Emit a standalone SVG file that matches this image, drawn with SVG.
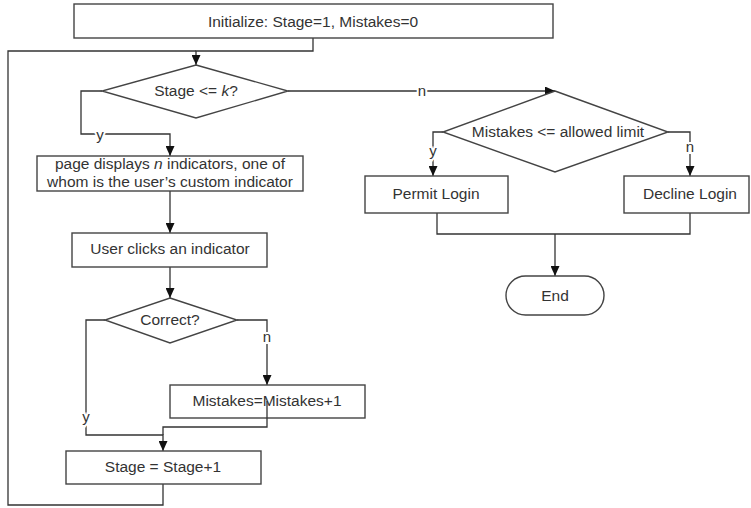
<svg xmlns="http://www.w3.org/2000/svg" width="751" height="508" viewBox="0 0 751 508">
<defs>
<marker id="ah" markerWidth="10" markerHeight="9" refX="10" refY="4.5" orient="auto" markerUnits="userSpaceOnUse">
<path d="M0,0 L10,4.5 L0,9 z" fill="#111"/>
</marker>
<style>
.box{fill:#fff;stroke:#444;stroke-width:1.4}
.t{font-family:"Liberation Sans",Arial,sans-serif;font-size:15.5px;fill:#333;text-anchor:middle}
.c{fill:none;stroke:#333;stroke-width:1.3}
.lb{font-family:"Liberation Sans",Arial,sans-serif;font-size:15px;fill:#333;text-anchor:middle;stroke:#fff;stroke-width:4;paint-order:stroke}
</style>
</defs>
<rect width="751" height="508" fill="#fff"/>
<g id="connectors">
<path class="c" d="M313,38 V51 H196 V65" marker-end="url(#ah)"/>
<path class="c" d="M163,484 V505 H8 V51 H196"/>
<path class="c" d="M102,91 H81 V134 H170 V156" marker-end="url(#ah)"/>
<path class="c" d="M170,191 V233" marker-end="url(#ah)"/>
<path class="c" d="M170,267 V298" marker-end="url(#ah)"/>
<path class="c" d="M105,320 H86 V435 H163 V451" marker-end="url(#ah)"/>
<path class="c" d="M237,320 H267 V385" marker-end="url(#ah)"/>
<path class="c" d="M288,91 H555" marker-end="url(#ah)"/>
<path class="c" d="M443,132 H433 V176" marker-end="url(#ah)"/>
<path class="c" d="M668,132 H690 V176" marker-end="url(#ah)"/>
<path class="c" d="M437,213 V234 H690 V213"/>
<path class="c" d="M555,234 V276" marker-end="url(#ah)"/>
</g>
<g id="init"><rect class="box" x="74" y="4" width="479" height="34"/><text class="t" x="313" y="27">Initialize: Stage=1, Mistakes=0</text></g>
<g id="stageCheck"><polygon class="box" points="196,65 288,91 196,118 102,91"/><text class="t" x="196" y="96">Stage &lt;= <tspan font-style="italic">k</tspan>?</text></g>
<g id="display"><rect class="box" x="37" y="156" width="266" height="35"/><text class="t" x="170" y="169">page displays <tspan font-style="italic">n</tspan> indicators, one of</text><text class="t" x="170" y="187">whom is the user’s custom indicator</text></g>
<g id="click"><rect class="box" x="72" y="233" width="195" height="34"/><text class="t" x="170" y="254">User clicks an indicator</text></g>
<g id="correct"><polygon class="box" points="170,298 237,320 170,343 105,320"/><text class="t" x="170" y="325">Correct?</text></g>
<g id="mistakesInc"><rect class="box" x="170" y="385" width="195" height="33"/><text class="t" x="267" y="406">Mistakes=Mistakes+1</text></g>
<g id="stageInc"><rect class="box" x="66" y="451" width="195" height="33"/><text class="t" x="163" y="472">Stage = Stage+1</text></g>
<g id="limitCheck"><polygon class="box" points="555,91 668,132 555,172 443,132"/><text class="t" x="558" y="137">Mistakes &lt;= allowed limit</text></g>
<g id="permit"><rect class="box" x="365" y="176" width="143" height="37"/><text class="t" x="436" y="199">Permit Login</text></g>
<g id="decline"><rect class="box" x="624" y="176" width="125" height="37"/><text class="t" x="690" y="199">Decline Login</text></g>
<g id="end"><rect class="box" x="506" y="276" width="98" height="39" rx="19.5" ry="19.5"/><text class="t" x="555" y="301">End</text></g>
<g id="mistakesLine"><path class="c" d="M267,401 V427 H163 V435"/></g>
<g id="labels">
<text class="lb" x="100" y="140">y</text>
<text class="lb" x="86" y="422">y</text>
<text class="lb" x="267" y="342">n</text>
<text class="lb" x="422" y="96">n</text>
<text class="lb" x="433" y="156">y</text>
<text class="lb" x="690" y="152">n</text>
</g>
</svg>
